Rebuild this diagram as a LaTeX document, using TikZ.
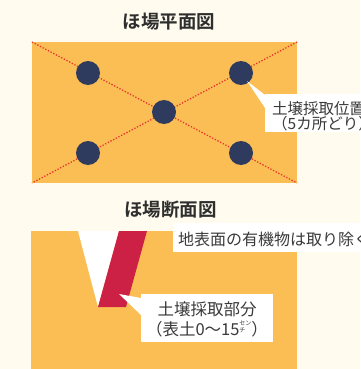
\documentclass[tikz,border=0pt]{standalone}
\usepackage{fontspec}
\newfontfamily\jp{Noto Sans CJK JP}[BoldFont={Noto Sans CJK JP Bold}]
\definecolor{paper}{HTML}{FFFCEF}
\definecolor{field}{HTML}{FBBE55}
\definecolor{spot}{HTML}{2E3A5E}
\definecolor{soilcut}{HTML}{CC2045}
\definecolor{guide}{HTML}{E8342C}
\definecolor{ink}{HTML}{3A3A3A}
\begin{document}
\begin{tikzpicture}[x=1pt,y=-1pt,
  heading/.style={font=\jp\bfseries\fontsize{18.5}{18.5}\selectfont, text=ink!80!black, inner sep=0pt, anchor=base},
  spotdot/.style={circle, fill=spot, minimum size=24pt, inner sep=0pt},
  guideline/.style={guide, line width=1.3pt, dash pattern=on 1.3pt off 1.7pt},
  note/.style={text=ink, inner sep=0pt},
  notebox/.style={fill=white, inner sep=0pt, anchor=north west}]
\useasboundingbox (0,0) rectangle (360,369);
\clip (0,0) rectangle (360,369);
\fill[paper] (0,0) rectangle (360,369);

% ---- plan view ----
\node[heading] (planTitle) at (169,28.8) {ほ場平面図};
\coordinate (pnw) at (32,42);
\coordinate (pne) at (297,42);
\coordinate (pse) at (297,183);
\coordinate (psw) at (32,183);
\fill[field] (pnw) rectangle (pse);
\draw[guideline] (pnw) -- (pse);
\draw[guideline] (pne) -- (psw);
\node[spotdot] (s1) at (88,73) {};
\node[spotdot] (s2) at (241,73) {};
\node[spotdot] (s3) at (164,112) {};
\node[spotdot] (s4) at (88,153) {};
\node[spotdot] (s5) at (241,153) {};

% callout for the sampling spots
\coordinate (tip1) at (247,81);
\node[notebox, minimum width=110pt, minimum height=38pt] (box1) at (265,94) {};
\fill[white] (tip1) -- ([yshift=-1pt]box1.north west) -- ([yshift=-14pt]box1.north west) -- cycle;
% a multi-line node sits on the baseline of its last line
\node[note, anchor=base west, align=left, font=\jp\fontsize{15.5}{15}\selectfont] (lbl1) at (272,129.2)
  {土壌採取位置\\（5カ所どり）};

% ---- section view ----
\node[heading] (cutTitle) at (170.5,216.5) {ほ場断面図};
\coordinate (cnw) at (31,231);
\coordinate (cse) at (297,372);
\fill[field] (cnw) rectangle (cse);
% removed surface wedge and sampled soil band
\fill[white] (78,231) -- (119,231) -- (98,307) -- cycle;
\fill[soilcut] (119,231) -- (147,231) -- (126,307) -- (98,307) -- cycle;

\node[notebox, minimum width=200pt, minimum height=29pt] (box2) at (173,223) {};
\node[note, anchor=base west, font=\jp\fontsize{16}{16}\selectfont] (lbl2) at (178,245.6)
  {地表面の有機物は取り除く};

\coordinate (tip3) at (119,294);
\node[notebox, minimum width=132pt, minimum height=48pt] (box3) at (141,294) {};
\fill[white] (tip3) -- ([yshift=-4pt]box3.north west) -- ([yshift=-21pt]box3.north west) -- cycle;
\node[note, anchor=base, align=center, font=\jp\fontsize{16.5}{20}\selectfont] (lbl3) at (207,335.3)
  {土壌採取部分\\（表土0～15\raisebox{0.15em}{\fontsize{6}{5.5}\selectfont\shortstack[l]{セン\\チ}}）};
\end{tikzpicture}
\end{document}
